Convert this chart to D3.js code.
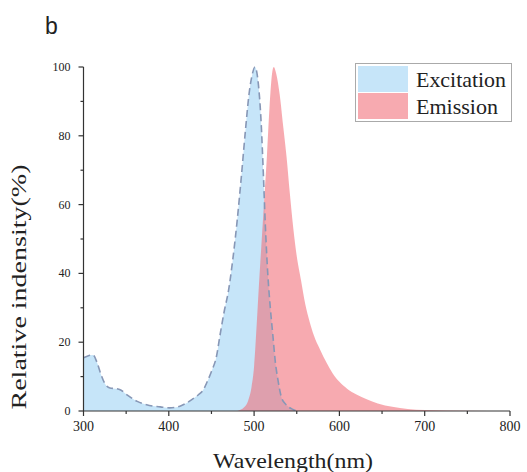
<!DOCTYPE html>
<html>
<head>
<meta charset="utf-8">
<script src="https://cdn.jsdelivr.net/npm/d3@7"></script>
<style>
  html, body { margin: 0; padding: 0; background: #fff; }
  svg { display: block; }
  text { font-family: "Liberation Serif", "Times New Roman", serif; fill: #222; }
</style>
</head>
<body>
<svg id="chart" width="527" height="472"></svg>
<script>
// ---- data ----
const excitationWavelength = [300, 305, 311, 316, 320, 325, 331, 338, 343, 351, 363, 374, 390, 401, 413, 420, 428, 435, 440, 445, 450, 456, 460, 465, 470, 475, 480, 485, 490, 494, 498, 501, 505, 508, 511, 513, 516, 519, 522, 525, 528, 532, 537, 545, 550];
const excitationValue      = [15.5, 16, 16.3, 14, 11, 8, 6.7, 6.5, 6.2, 4.7, 2.8, 1.8, 1.2, 0.9, 1.4, 2.2, 3.5, 4.8, 6, 8.5, 11.5, 16, 22, 29, 35, 44, 55, 68, 82, 92, 98, 100, 95, 85, 68, 55, 40, 30, 22, 14, 9, 4, 2, 0.5, 0];
const emissionWavelength = [480, 488, 493, 497, 500, 503, 506, 509, 512, 515, 518, 521, 523, 526, 530, 534, 538, 542, 546, 550, 555, 560, 565, 570, 577, 585, 592, 600, 609, 620, 632, 645, 662, 680, 700, 750, 800];
const emissionValue      = [0, 1, 3, 7, 13, 25, 38, 50, 62, 74, 88, 98, 100, 98, 92, 83, 74, 63, 53, 45, 38, 31, 26, 22, 18, 14, 11, 8.5, 6.5, 4.8, 3.4, 2.2, 1.2, 0.6, 0.3, 0.1, 0];
const xTicks = [300, 400, 500, 600, 700, 800];
const yTicks = [0, 20, 40, 60, 80, 100];
const legendLabels = ["Excitation", "Emission"];

// ---- layout ----
const svg = d3.select("#chart");
const x = d3.scaleLinear().domain([300, 800]).range([83.5, 510]);
const y = d3.scaleLinear().domain([0, 100]).range([411, 67]);

const exData = excitationWavelength.map((w, i) => ({ w, v: excitationValue[i] }));
const emData = emissionWavelength.map((w, i) => ({ w, v: emissionValue[i] }));

const area = d3.area().x(d => x(d.w)).y0(y(0)).y1(d => y(d.v)).curve(d3.curveMonotoneX);
const line = d3.line().x(d => x(d.w)).y(d => y(d.v)).curve(d3.curveMonotoneX);

// excitation
svg.append("path").datum(exData).attr("d", area).attr("fill", "#c6e5f9");
// emission (semi-transparent so overlap darkens)
svg.append("path").datum(emData).attr("d", area).attr("fill", "rgb(241,104,114)").attr("fill-opacity", 0.56);
// excitation dashed outline
svg.append("path").datum(exData).attr("d", line)
  .attr("fill", "none").attr("stroke", "#8797b6").attr("stroke-width", 1.6)
  .attr("stroke-dasharray", "7,4");

// ---- axes ----
const axisColor = "#333";
const gx = svg.append("g").attr("transform", `translate(0,${y(0)})`);
gx.append("line").attr("x1", x(300)).attr("x2", x(800)).attr("stroke", axisColor).attr("stroke-width", 1.2);
gx.selectAll(".minor").data(d3.range(300, 801, 50)).join("line")
  .attr("x1", d => x(d)).attr("x2", d => x(d))
  .attr("y1", 0).attr("y2", d => d % 100 === 0 ? 5 : 3)
  .attr("stroke", axisColor).attr("stroke-width", 1.2);
gx.selectAll("text").data(xTicks).join("text")
  .attr("x", d => x(d)).attr("y", 20)
  .attr("text-anchor", "middle").attr("font-size", 14)
  .text(d => d);

const gy = svg.append("g").attr("transform", `translate(${x(300)},0)`);
gy.append("line").attr("y1", y(0)).attr("y2", y(100)).attr("stroke", axisColor).attr("stroke-width", 1.2);
gy.selectAll(".minor").data(d3.range(0, 101, 10)).join("line")
  .attr("y1", d => y(d)).attr("y2", d => y(d))
  .attr("x1", 0).attr("x2", d => d % 20 === 0 ? -5 : -3)
  .attr("stroke", axisColor).attr("stroke-width", 1.2);
gy.selectAll("text").data(yTicks).join("text")
  .attr("x", -13).attr("y", d => y(d) + 4)
  .attr("text-anchor", "end").attr("font-size", 12)
  .text(d => d);

// axis titles
svg.append("text").attr("x", 293).attr("y", 468).attr("text-anchor", "middle")
  .attr("font-size", 21).attr("textLength", 160).attr("lengthAdjust", "spacingAndGlyphs")
  .text("Wavelength(nm)");
svg.append("text").attr("transform", "translate(26,287) rotate(-90)")
  .attr("text-anchor", "middle").attr("font-size", 20)
  .attr("textLength", 245).attr("lengthAdjust", "spacingAndGlyphs")
  .text("Relative indensity(%)");

// panel label
svg.append("text").attr("x", 45).attr("y", 34)
  .style("font-family", "'Liberation Sans', Arial, sans-serif")
  .attr("font-size", 23).text("b");

// ---- legend ----
const lg = svg.append("g");
lg.append("rect").attr("x", 355.5).attr("y", 63.5).attr("width", 156).attr("height", 58)
  .attr("fill", "#fff").attr("stroke", "#aaa").attr("stroke-width", 1);
const legendColors = [{ fill: "#c6e5f9", op: 1 }, { fill: "rgb(241,104,114)", op: 0.56 }];
const legendLengths = [90, 82];
legendLabels.forEach((lab, i) => {
  lg.append("rect").attr("x", 358).attr("y", 66 + i * 27).attr("width", 50).attr("height", 26)
    .attr("fill", legendColors[i].fill).attr("fill-opacity", legendColors[i].op);
  lg.append("text").attr("x", 416).attr("y", 87 + i * 27).attr("font-size", 21)
    .attr("textLength", legendLengths[i]).attr("lengthAdjust", "spacingAndGlyphs").text(lab);
});
</script>
</body>
</html>
